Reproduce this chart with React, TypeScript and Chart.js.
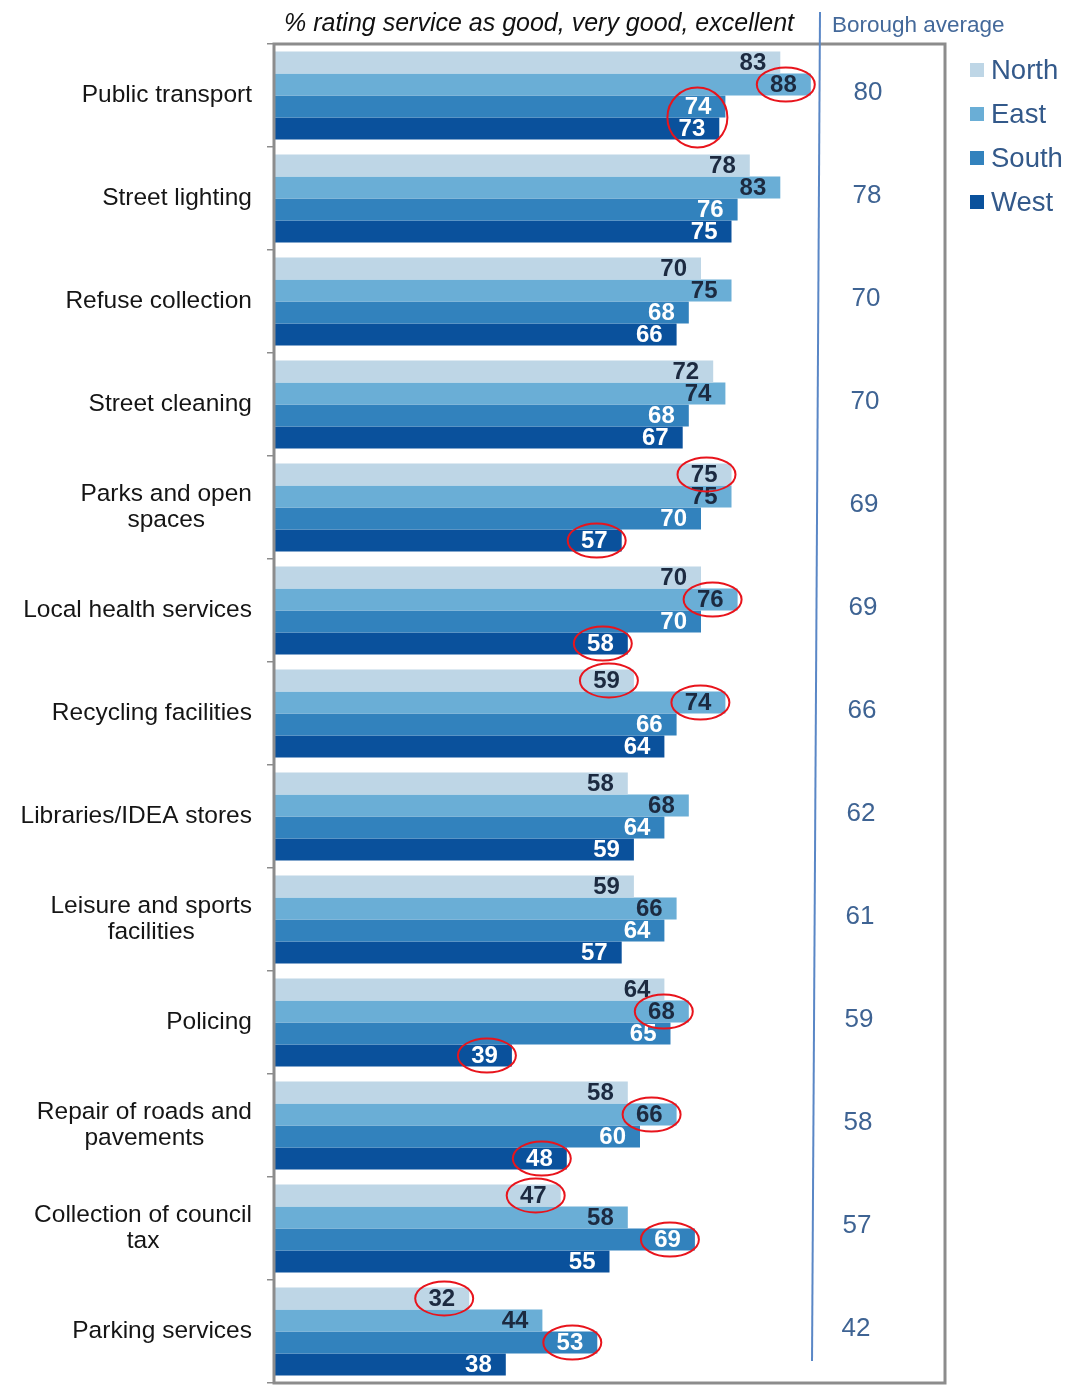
import React, { useEffect, useRef } from "react";
import { Chart, registerables } from "chart.js";
Chart.register(...registerables);

const categories: string[][] = [
  ["Public transport"],
  ["Street lighting"],
  ["Refuse collection"],
  ["Street cleaning"],
  ["Parks and open", "spaces"],
  ["Local health services"],
  ["Recycling facilities"],
  ["Libraries/IDEA stores"],
  ["Leisure and sports", "facilities"],
  ["Policing"],
  ["Repair of roads and", "pavements"],
  ["Collection of council", "tax"],
  ["Parking services"],
];
const north = [83, 78, 70, 72, 75, 70, 59, 58, 59, 64, 58, 47, 32];
const east = [88, 83, 75, 74, 75, 76, 74, 68, 66, 68, 66, 58, 44];
const south = [74, 76, 68, 68, 70, 70, 66, 64, 64, 65, 60, 69, 53];
const west = [73, 75, 66, 67, 57, 58, 64, 59, 57, 39, 48, 55, 38];
const boroughAverage = [80, 78, 70, 70, 69, 69, 66, 62, 61, 59, 58, 57, 42];
const seriesNames = ["North", "East", "South", "West"];
const seriesColors = ["#bed6e6", "#6aaed6", "#3282bd", "#0a519c"];
const labelColors = ["#1c2a40", "#1c2a40", "#ffffff", "#ffffff"];
// [category index, first series index, last series index]
const highlights: number[][] = [
  [0, 1, 1], [0, 2, 3], [4, 0, 0], [4, 3, 3], [5, 1, 1], [5, 3, 3],
  [6, 0, 0], [6, 1, 1], [9, 1, 1], [9, 3, 3], [10, 1, 1], [10, 3, 3],
  [11, 0, 0], [11, 2, 2], [12, 0, 0], [12, 2, 2],
];
const titleText = "% rating service as good, very good, excellent";
const averageTitle = "Borough average";

const FONT = "'Liberation Sans', Arial, sans-serif";

const overlay = {
  id: "overlay",
  afterDatasetsDraw(chart: any) {
    const ctx = chart.ctx as CanvasRenderingContext2D;
    const area = chart.chartArea;
    ctx.save();
    // bar value labels
    ctx.font = `bold 24px ${FONT}`;
    ctx.textBaseline = "middle";
    ctx.textAlign = "right";
    chart.data.datasets.forEach((ds: any, di: number) => {
      const meta = chart.getDatasetMeta(di);
      meta.data.forEach((bar: any, i: number) => {
        ctx.fillStyle = labelColors[di];
        ctx.fillText(String(ds.data[i]), bar.x - 14, bar.y + 1);
      });
    });
    // red ellipses
    ctx.strokeStyle = "#e8141c";
    ctx.lineWidth = 2;
    highlights.forEach(([ci, s0, s1]) => {
      const b0 = chart.getDatasetMeta(s0).data[ci];
      const b1 = chart.getDatasetMeta(s1).data[ci];
      const single = s0 === s1;
      const cx = single ? b0.x - 25 : Math.max(b0.x, b1.x) - 28;
      const cy = (b0.y + b1.y) / 2;
      ctx.beginPath();
      ctx.ellipse(cx, cy, single ? 29 : 30, single ? 17 : 30, 0, 0, Math.PI * 2);
      ctx.stroke();
    });
    // plot border
    ctx.strokeStyle = "#8c8c8c";
    ctx.lineWidth = 3;
    ctx.strokeRect(area.left, area.top, area.right - area.left, area.bottom - area.top);
    ctx.restore();
  },
  afterDraw(chart: any) {
    const ctx = chart.ctx as CanvasRenderingContext2D;
    const area = chart.chartArea;
    const yScale = chart.scales.y;
    ctx.save();
    // category labels
    ctx.font = `24.5px ${FONT}`;
    ctx.fillStyle = "#151515";
    ctx.textBaseline = "middle";
    ctx.textAlign = "center";
    categories.forEach((lines, i) => {
      const cy = yScale.getPixelForValue(i);
      const maxW = Math.max(...lines.map((l) => ctx.measureText(l).width));
      const cx = area.left - 22 - maxW / 2;
      const lh = 26;
      lines.forEach((l, j) => {
        ctx.fillText(l, cx, cy - ((lines.length - 1) * lh) / 2 + j * lh);
      });
    });
    // title
    ctx.font = `italic 25px ${FONT}`;
    ctx.textAlign = "left";
    ctx.fillStyle = "#111111";
    ctx.fillText(titleText, area.left + 10, 24);
    // borough average line and header
    ctx.strokeStyle = "#5a87c6";
    ctx.lineWidth = 2;
    ctx.beginPath();
    ctx.moveTo(820, 12);
    ctx.lineTo(812, area.bottom - 22);
    ctx.stroke();
    ctx.font = `22.5px ${FONT}`;
    ctx.fillStyle = "#44699a";
    ctx.fillText(averageTitle, 832, 26);
    // borough average values
    ctx.font = `26px ${FONT}`;
    ctx.fillStyle = "#3e6393";
    ctx.textAlign = "center";
    boroughAverage.forEach((v, i) => {
      const cy = yScale.getPixelForValue(i);
      const cx = 868 - (i / (boroughAverage.length - 1)) * 12;
      ctx.fillText(String(v), cx, cy - 3);
    });
    // legend
    ctx.textAlign = "left";
    ctx.font = `27.5px ${FONT}`;
    seriesNames.forEach((n, i) => {
      const y = 70 + i * 44;
      ctx.fillStyle = seriesColors[i];
      ctx.fillRect(970, y - 7, 14, 14);
      ctx.fillStyle = "#33598a";
      ctx.fillText(n, 991, y + 1);
    });
    ctx.restore();
  },
};

export default function App() {
  const ref = useRef<HTMLCanvasElement | null>(null);
  useEffect(() => {
    if (!ref.current) return;
    const chart = new Chart(ref.current, {
      type: "bar",
      data: {
        labels: categories.map((c) => c.join(" ")),
        datasets: [north, east, south, west].map((d, i) => ({
          label: seriesNames[i],
          data: d,
          backgroundColor: seriesColors[i],
          borderWidth: 0,
          categoryPercentage: 0.855,
          barPercentage: 1.0,
        })),
      },
      options: {
        indexAxis: "y",
        animation: false,
        responsive: false,
        maintainAspectRatio: false,
        layout: { padding: { top: 44, bottom: 2, left: 0, right: 122 } },
        plugins: {
          legend: { display: false },
          tooltip: { enabled: false },
        },
        scales: {
          x: { display: false, min: 0, max: 110 },
          y: {
            display: true,
            offset: true,
            ticks: { display: false },
            border: { display: false },
            grid: {
              display: true,
              offset: true,
              drawOnChartArea: false,
              drawTicks: true,
              tickLength: 7,
              color: "#8c8c8c",
              lineWidth: 1.5,
            },
            afterFit(scale: any) {
              scale.width = 274;
            },
          },
        },
      },
      plugins: [overlay],
    } as any);
    return () => chart.destroy();
  }, []);
  return (
    <div style={{ position: "absolute", left: 0, top: 0, width: 1067, height: 1385, background: "#fff" }}>
      <canvas ref={ref} width={1067} height={1385} style={{ width: 1067, height: 1385, display: "block" }} />
    </div>
  );
}
